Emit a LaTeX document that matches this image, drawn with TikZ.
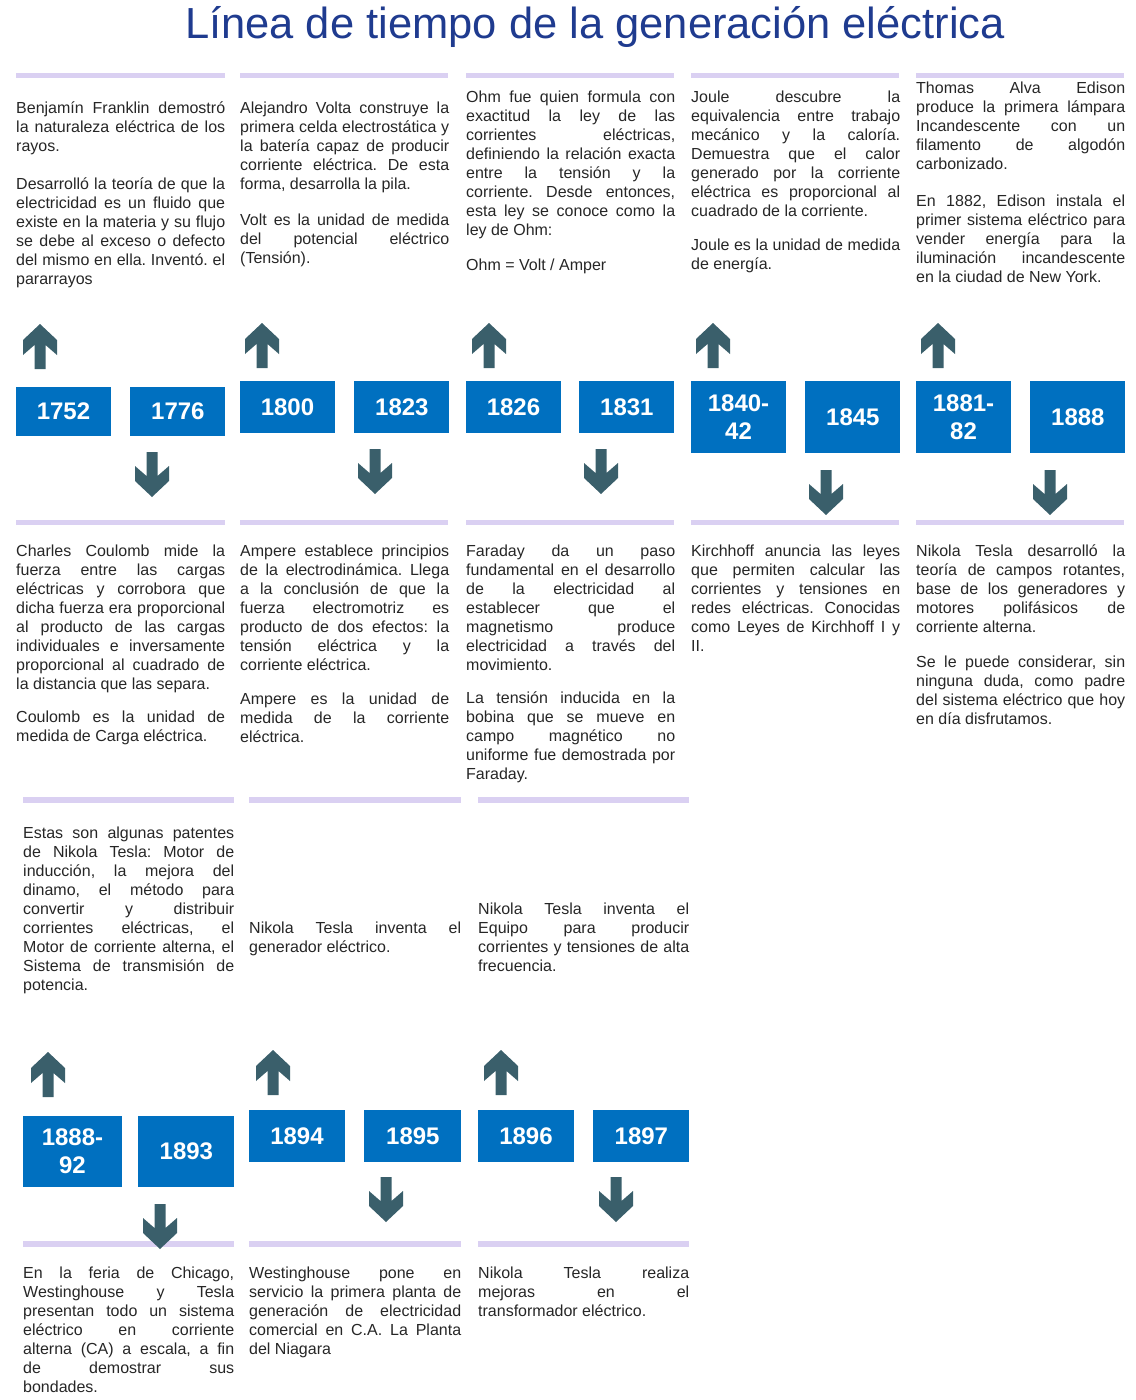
\documentclass[tikz,border=0pt]{standalone}
\usepackage{fontspec}
\setmainfont{Liberation Sans}
\usetikzlibrary{positioning}
\definecolor{yearblue}{HTML}{0070C0}
\definecolor{arrowgray}{HTML}{3A5F6B}
\definecolor{barlilac}{HTML}{DAD0F2}
\definecolor{titleblue}{HTML}{1F3B8F}
\definecolor{bodytext}{HTML}{262626}
\hyphenpenalty=10000
\exhyphenpenalty=10000
\frenchspacing
\begin{document}
\begin{tikzpicture}[x=1pt,y=-1pt,
      year/.style={
        % The box:
        rectangle,minimum width=95pt,minimum height=50pt,inner sep=0pt,
        % The rest
        fill=yearblue,text=white,align=center,
        font=\fontsize{24}{28}\selectfont\bfseries},
      note/.style={
        anchor=north west,inner sep=0pt,text width=209pt,align=justify,
        text=bodytext,execute at begin node=\strut,
        font=\fontsize{16}{19}\selectfont},
      bar/.style={fill=barlilac},
      uparrow/.pic={\fill[arrowgray] (0,0) -- (17,16) -- (17,31) -- (5.5,21) -- (5.5,45)
        -- (-5.5,45) -- (-5.5,21) -- (-17,31) -- (-17,16) -- cycle;},
      downarrow/.pic={\fill[arrowgray] (0,0) -- (17,-16) -- (17,-31) -- (5.5,-21) -- (5.5,-45)
        -- (-5.5,-45) -- (-5.5,-21) -- (-17,-31) -- (-17,-16) -- cycle;}]
    \useasboundingbox (0,0) rectangle (1135,1400);
    \node(title)[text=titleblue, font=\fontsize{43.5}{48}\selectfont] at (595,27)
      {Línea de tiempo de la generación eléctrica};

    % first band: 1752 - 1888
    \foreach \x/\w in {16/225,240/448,466/674,691/899,916/1124}{
      \fill[bar] (\x,73) rectangle (\w,78);
      \fill[bar] (\x,520) rectangle (\w,525);
    }
    \node(t1752)[note] at (16,100) {Benjamín Franklin demostró\linebreak la naturaleza eléctrica de los\linebreak rayos.\\[19pt]
      Desarrolló la teoría de que la\linebreak electricidad es un fluido que\linebreak existe en la materia y su flujo\linebreak se debe al exceso o defecto\linebreak del mismo en ella. Inventó. el\linebreak pararrayos};
    \node(t1800)[note] at (240,100) {Alejandro Volta construye la\linebreak primera celda electrostática y\linebreak la batería capaz de producir\linebreak corriente eléctrica. De esta\linebreak forma, desarrolla la pila.\\[17pt]
      Volt es la unidad de medida\linebreak del potencial eléctrico\linebreak (Tensión).};
    \node(t1826)[note] at (466,89) {Ohm fue quien formula con\linebreak exactitud la ley de las\linebreak corrientes eléctricas,\linebreak definiendo la relación exacta\linebreak entre la tensión y la\linebreak corriente. Desde entonces,\linebreak esta ley se conoce como la\linebreak ley de Ohm:\\[16pt]
      Ohm = Volt / Amper};
    \node(t1840)[note] at (691,89) {Joule descubre la\linebreak equivalencia entre trabajo\linebreak mecánico y la caloría.\linebreak Demuestra que el calor\linebreak generado por la corriente\linebreak eléctrica es proporcional al\linebreak cuadrado de la corriente.\\[15pt]
      Joule es la unidad de medida\linebreak de energía.};
    \node(t1881)[note] at (916,80) {Thomas Alva Edison\linebreak produce la primera lámpara\linebreak Incandescente con un\linebreak filamento de algodón\linebreak carbonizado.\\[18pt]
      En 1882, Edison instala el\linebreak primer sistema eléctrico para\linebreak vender energía para la\linebreak iluminación incandescente\linebreak en la ciudad de New York.};

    \node(y1752)[year, minimum height=49pt] at (63.5,411.5) {1752};
    \node(y1776)[year, minimum height=49pt, right=19pt, at=(y1752.east)] {1776};
    \node(y1800)[year, minimum height=52pt] at (287.5,407) {1800};
    \node(y1823)[year, minimum height=52pt, right=19pt, at=(y1800.east)] {1823};
    \node(y1826)[year, minimum height=52pt] at (513.5,407) {1826};
    \node(y1831)[year, minimum height=52pt, right=18pt, at=(y1826.east)] {1831};
    \node(y1840)[year, minimum height=72pt] at (738.5,417) {1840-\\42};
    \node(y1845)[year, minimum height=72pt, right=19pt, at=(y1840.east)] {1845};
    \node(y1881)[year, minimum height=72pt] at (963.5,417) {1881-\\82};
    \node(y1888)[year, minimum height=72pt, right=19pt, at=(y1881.east)] {1888};

    \pic(u1752) at (40,324) {uparrow};
    \pic(u1800) at (262,323) {uparrow};
    \pic(u1826) at (489,323) {uparrow};
    \pic(u1840) at (713,323) {uparrow};
    \pic(u1881) at (938,323) {uparrow};
    \pic(d1776) at (152,497) {downarrow};
    \pic(d1823) at (375,494) {downarrow};
    \pic(d1831) at (601,494) {downarrow};
    \pic(d1845) at (826,515) {downarrow};
    \pic(d1888) at (1050,515) {downarrow};

    \node(t1776)[note] at (16,543) {Charles Coulomb mide la\linebreak fuerza entre las cargas\linebreak eléctricas y corrobora que\linebreak dicha fuerza era proporcional\linebreak al producto de las cargas\linebreak individuales e inversamente\linebreak proporcional al cuadrado de\linebreak la distancia que las separa.\\[14pt]
      Coulomb es la unidad de\linebreak medida de Carga eléctrica.};
    \node(t1823)[note] at (240,543) {Ampere establece principios\linebreak de la electrodinámica. Llega\linebreak a la conclusión de que la\linebreak fuerza electromotriz es\linebreak producto de dos efectos: la\linebreak tensión eléctrica y la\linebreak corriente eléctrica.\\[15pt]
      Ampere es la unidad de\linebreak medida de la corriente\linebreak eléctrica.};
    \node(t1831)[note] at (466,543) {Faraday da un paso\linebreak fundamental en el desarrollo\linebreak de la electricidad al\linebreak establecer que el\linebreak magnetismo produce\linebreak electricidad a través del\linebreak movimiento.\\[14pt]
      La tensión inducida en la\linebreak bobina que se mueve en\linebreak campo magnético no\linebreak uniforme fue demostrada por\linebreak Faraday.};
    \node(t1845)[note] at (691,543) {Kirchhoff anuncia las leyes\linebreak que permiten calcular las\linebreak corrientes y tensiones en\linebreak redes eléctricas. Conocidas\linebreak como Leyes de Kirchhoff I y\linebreak II.};
    \node(t1888)[note] at (916,543) {Nikola Tesla desarrolló la\linebreak teoría de campos rotantes,\linebreak base de los generadores y\linebreak motores polifásicos de\linebreak corriente alterna.\\[16pt]
      Se le puede considerar, sin\linebreak ninguna duda, como padre\linebreak del sistema eléctrico que hoy\linebreak en día disfrutamos.};

    % second band: 1888-92 - 1897
    \foreach \x/\w in {23/234,249/461,478/689}{
      \fill[bar] (\x,797) rectangle (\w,803);
      \fill[bar] (\x,1241) rectangle (\w,1247);
    }
    \node(t1892)[note, text width=211pt] at (23,825) {Estas son algunas patentes\linebreak de Nikola Tesla: Motor de\linebreak inducción, la mejora del\linebreak dinamo, el método para\linebreak convertir y distribuir\linebreak corrientes eléctricas, el\linebreak Motor de corriente alterna, el\linebreak Sistema de transmisión de\linebreak potencia.};
    \node(t1894)[note, text width=212pt] at (249,920) {Nikola Tesla inventa el\linebreak generador eléctrico.};
    \node(t1896)[note, text width=211pt] at (478,901) {Nikola Tesla inventa el\linebreak Equipo para producir\linebreak corrientes y tensiones de alta\linebreak frecuencia.};

    \node(y1892)[year, minimum width=99pt, minimum height=71pt] at (72.5,1151.5) {1888-\\92};
    \node(y1893)[year, minimum width=96pt, minimum height=71pt, right=16pt, at=(y1892.east)] {1893};
    \node(y1894)[year, minimum width=96pt, minimum height=52pt] at (297,1136) {1894};
    \node(y1895)[year, minimum width=97pt, minimum height=52pt, right=19pt, at=(y1894.east)] {1895};
    \node(y1896)[year, minimum width=96pt, minimum height=52pt] at (526,1136) {1896};
    \node(y1897)[year, minimum width=96pt, minimum height=52pt, right=19pt, at=(y1896.east)] {1897};

    \pic(u1892) at (48,1052) {uparrow};
    \pic(u1894) at (273,1050) {uparrow};
    \pic(u1896) at (501,1050) {uparrow};
    \pic(d1893) at (160,1249) {downarrow};
    \pic(d1895) at (386,1222) {downarrow};
    \pic(d1897) at (616,1222) {downarrow};

    \node(t1893)[note, text width=211pt] at (23,1265) {En la feria de Chicago,\linebreak Westinghouse y Tesla\linebreak presentan todo un sistema\linebreak eléctrico en corriente\linebreak alterna (CA) a escala, a fin\linebreak de demostrar sus\linebreak bondades.};
    \node(t1895)[note, text width=212pt] at (249,1265) {Westinghouse pone en\linebreak servicio la primera planta de\linebreak generación de electricidad\linebreak comercial en C.A. La Planta\linebreak del Niagara};
    \node(t1897)[note, text width=211pt] at (478,1265) {Nikola Tesla realiza\linebreak mejoras en el\linebreak transformador eléctrico.};

  \end{tikzpicture}
\end{document}
